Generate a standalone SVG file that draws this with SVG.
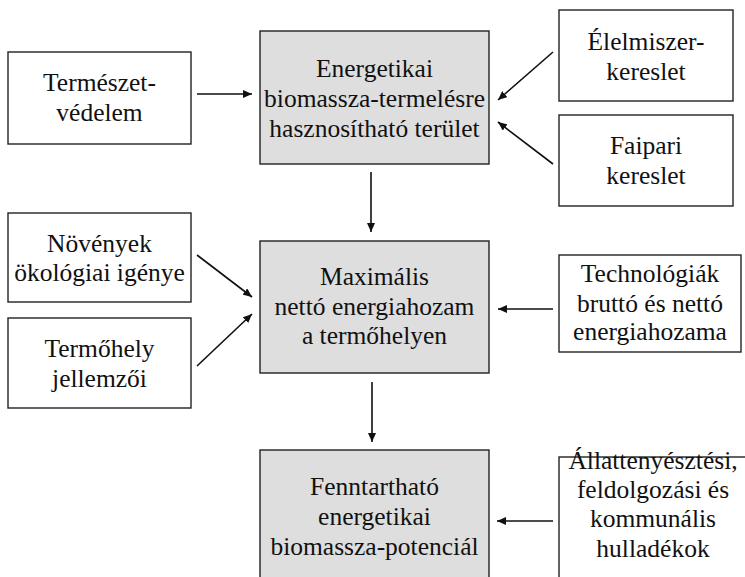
<svg xmlns="http://www.w3.org/2000/svg" width="745" height="577" viewBox="0 0 745 577">
<style>
.box{fill:#ffffff;stroke:#222222;stroke-width:1.4}
.main{fill:#dedede;stroke:#222222;stroke-width:1.4}
text{font-family:Liberation Serif, Times New Roman, DejaVu Serif, serif;font-size:25.5px;fill:#111111;text-anchor:middle}
.c line{stroke:#111111;stroke-width:1.6;marker-end:url(#ah)}
</style>
<defs>
<marker id="ah" markerUnits="userSpaceOnUse" markerWidth="10" markerHeight="8" refX="9" refY="4" orient="auto">
<path d="M0,0 L9,4 L0,8 Z" fill="#111111"/>
</marker>
</defs>
<rect width="745" height="577" fill="#ffffff"/>
<g id="termeszetvedelem">
<rect class="box" x="8" y="52" width="183" height="92"/>
<text x="99.5" y="91">Természet-</text>
<text x="99.5" y="121">védelem</text>
</g>
<g id="terulet">
<rect class="main" x="260" y="31" width="229" height="133"/>
<text x="374.5" y="77">Energetikai</text>
<text x="374.5" y="107">biomassza-termelésre</text>
<text x="374.5" y="137">hasznosítható terület</text>
</g>
<g id="elelmiszer">
<rect class="box" x="559" y="10" width="174" height="91"/>
<text x="646" y="50">Élelmiszer-</text>
<text x="646" y="80">kereslet</text>
</g>
<g id="faipari">
<rect class="box" x="559" y="115" width="174" height="91"/>
<text x="646" y="154">Faipari</text>
<text x="646" y="184">kereslet</text>
</g>
<g id="novenyek">
<rect class="box" x="8" y="213" width="183" height="89"/>
<text x="99.5" y="252">Növények</text>
<text x="99.5" y="281">ökológiai igénye</text>
</g>
<g id="termohely">
<rect class="box" x="8" y="318" width="183" height="90"/>
<text x="99.5" y="357">Termőhely</text>
<text x="99.5" y="387">jellemzői</text>
</g>
<g id="maximalis">
<rect class="main" x="260" y="241" width="229" height="132"/>
<text x="374.5" y="285">Maximális</text>
<text x="374.5" y="315">nettó energiahozam</text>
<text x="374.5" y="344">a termőhelyen</text>
</g>
<g id="technologiak">
<rect class="box" x="559" y="255" width="182" height="97"/>
<text x="650" y="282">Technológiák</text>
<text x="650" y="312">bruttó és nettó</text>
<text x="650" y="340">energiahozama</text>
</g>
<g id="fenntarthato">
<rect class="main" x="260" y="450" width="229" height="140"/>
<text x="374.5" y="495">Fenntartható</text>
<text x="374.5" y="525">energetikai</text>
<text x="374.5" y="555">biomassza-potenciál</text>
</g>
<g id="hulladekok">
<rect class="box" x="559" y="457" width="200" height="130"/>
<text x="653" y="469">Állattenyésztési,</text>
<text x="653" y="498">feldolgozási és</text>
<text x="653" y="527">kommunális</text>
<text x="653" y="557">hulladékok</text>
</g>
<g class="c" id="connectors">
<line x1="197" y1="94" x2="252" y2="94"/>
<line x1="553" y1="52" x2="498" y2="100"/>
<line x1="553" y1="164" x2="498" y2="122"/>
<line x1="371" y1="172" x2="371" y2="232"/>
<line x1="197" y1="255" x2="252" y2="297"/>
<line x1="197" y1="366" x2="252" y2="314"/>
<line x1="553" y1="309" x2="498" y2="309"/>
<line x1="372" y1="382" x2="372" y2="442"/>
<line x1="553" y1="521" x2="497" y2="521"/>
</g>
</svg>
